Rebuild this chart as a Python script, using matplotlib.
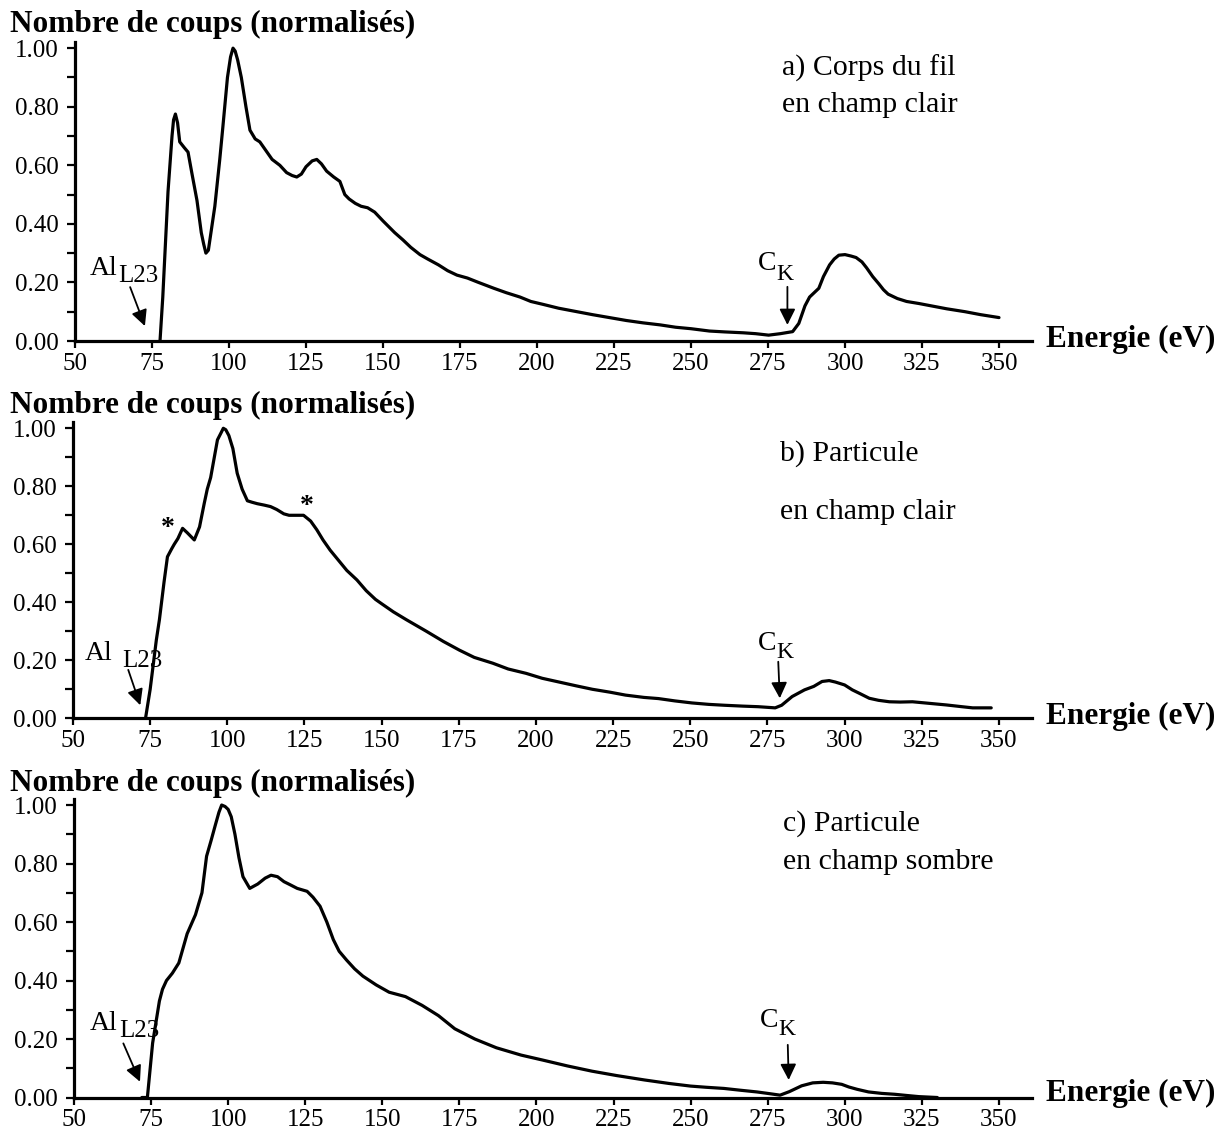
import matplotlib
matplotlib.use("Agg")
import matplotlib.pyplot as plt
from matplotlib.ticker import MultipleLocator, FixedLocator

# ---------------- data ----------------
energy_a = [77.6, 78.5, 80.2, 81.5, 82.0, 82.6, 83.3, 84.0, 85.5, 86.7, 88.0, 89.6, 91.0, 91.8,
            92.5, 93.3, 94.0, 95.4, 97.0, 98.0, 99.5, 100.5, 101.3, 102.0, 102.8, 104.0, 105.5,
            106.8, 108.5, 110.0, 112.0, 114.0,
            116.5, 118.7, 120.5, 122.0, 123.5, 125.0, 127.0, 128.5, 130.0, 131.7, 134.0, 136.0,
            137.6, 139.0, 141.0, 142.9, 145.0, 147.3, 150.0, 153.8, 156.5, 159.0, 162.0, 164.5,
            168.0, 171.0, 174.0, 177.4, 181.0, 186.0, 190.0, 194.5, 198.0, 202.0, 207.0, 213.0,
            218.0, 223.5, 229.0, 234.4, 240.0, 245.0, 250.0, 256.0, 261.0, 267.0, 271.0, 275.2,
            279.0, 283.0, 285.0, 287.0, 288.5, 290.0, 291.5, 293.0, 295.0, 296.5, 298.0, 300.0,
            302.0, 303.6, 305.5, 307.0, 309.0, 311.0, 312.5, 314.0, 317.0, 320.0, 324.0, 328.0,
            333.0, 339.0, 344.0, 350.0]
counts_a = [0.0, 0.15, 0.51, 0.70, 0.755, 0.775, 0.745, 0.68, 0.66, 0.645, 0.57, 0.48, 0.37, 0.33,
            0.30, 0.31, 0.36, 0.46, 0.62, 0.73, 0.90, 0.97, 1.00, 0.99, 0.96, 0.90, 0.80,
            0.72, 0.69, 0.68, 0.65, 0.62,
            0.60, 0.575, 0.565, 0.56, 0.57, 0.595, 0.615, 0.62, 0.605, 0.58, 0.56, 0.545,
            0.50, 0.485, 0.47, 0.46, 0.455, 0.44, 0.41, 0.37, 0.345, 0.32, 0.295, 0.28,
            0.26, 0.24, 0.225, 0.215, 0.20, 0.18, 0.165, 0.15, 0.135, 0.125, 0.112, 0.10,
            0.09, 0.08, 0.07, 0.062, 0.055, 0.047, 0.042, 0.034, 0.031, 0.028, 0.025, 0.02,
            0.025, 0.032, 0.06, 0.12, 0.15, 0.165, 0.18, 0.22, 0.26, 0.28, 0.293, 0.295,
            0.29, 0.285, 0.27, 0.25, 0.22, 0.195, 0.175, 0.16, 0.145, 0.135, 0.128, 0.12,
            0.11, 0.10, 0.09, 0.08]

energy_b = [73.5, 75, 77, 78, 79.5, 80.6, 82, 82.8, 84, 85.5, 87, 89.3, 91, 92.5, 93.5, 94.6,
            96.8, 98, 98.7, 99.5, 100.5, 101.8, 103.2, 104.8, 106.5, 108, 109.7, 112, 114, 116, 118.3,
            120, 122, 124.7, 127, 129, 131, 133.3, 136, 138.7, 142, 145, 148, 150, 153.8, 158,
            164.5, 170, 175.2, 180, 186, 191, 196.8, 202, 207.5, 213, 218.3, 224, 229, 235,
            239.7, 245, 250.5, 256, 261, 267, 272, 277.5, 279.6, 283, 287, 290, 292.7, 295,
            297, 300, 302.5, 305, 308, 311, 314.5, 318, 322, 327, 333, 338, 341.5, 347.5]
counts_b = [0, 0.10, 0.27, 0.34, 0.47, 0.557, 0.585, 0.60, 0.62, 0.655, 0.64, 0.615, 0.66, 0.74,
            0.79, 0.83, 0.96, 0.985, 1.0, 0.995, 0.975, 0.93, 0.845, 0.79, 0.75, 0.745, 0.74, 0.735,
            0.73, 0.72, 0.705, 0.70, 0.70, 0.70, 0.68, 0.65, 0.615, 0.58, 0.545, 0.51, 0.477,
            0.44, 0.41, 0.395, 0.367, 0.34, 0.30, 0.265, 0.235, 0.21, 0.19, 0.17, 0.155, 0.138,
            0.125, 0.112, 0.10, 0.09, 0.08, 0.072, 0.068, 0.06, 0.053, 0.048, 0.045, 0.042,
            0.04, 0.036, 0.045, 0.075, 0.098, 0.11, 0.127, 0.13, 0.125, 0.115, 0.098, 0.085,
            0.069, 0.062, 0.057, 0.056, 0.057, 0.052, 0.046, 0.04, 0.036, 0.036]

energy_c = [72, 73.8, 75.5, 77.7, 78.7, 80, 81.9, 84, 86.7, 89.4, 91.5, 93, 94.5, 95.8, 97.0, 97.9,
            99.0, 100, 101, 102.2, 103.5, 104.8, 107, 109.6, 112, 113.9, 116, 118.1, 120, 122.4,
            125.6, 127.5, 129.8, 132, 134.1, 136, 138.4, 141, 143.7, 148, 152.2, 157.5, 162.9,
            168.2, 173.5, 180, 187, 195, 202, 210, 218, 226, 235, 243, 250, 255, 260.8, 266,
            271.5, 275, 279, 282, 286, 289.6, 293, 296, 299, 301.3, 304, 307.7, 312, 316.2,
            320, 324, 330]
counts_c = [0, 0, 0.186, 0.33, 0.37, 0.40, 0.425, 0.46, 0.56, 0.625, 0.70, 0.825, 0.88, 0.93, 0.975,
            1.0, 0.995, 0.985, 0.96, 0.90, 0.82, 0.755, 0.715, 0.73, 0.75, 0.76, 0.755, 0.738, 0.728,
            0.715, 0.705, 0.685, 0.654, 0.60, 0.54, 0.50, 0.47, 0.44, 0.415, 0.385, 0.36,
            0.345, 0.315, 0.28, 0.235, 0.20, 0.17, 0.145, 0.128, 0.108, 0.09, 0.075, 0.06,
            0.048, 0.039, 0.035, 0.031, 0.025, 0.019, 0.014, 0.008, 0.02, 0.04, 0.05, 0.052,
            0.05, 0.045, 0.036, 0.028, 0.019, 0.014, 0.011, 0.007, 0.003, 0]

x_ticks = [50, 75, 100, 125, 150, 175, 200, 225, 250, 275, 300, 325, 350]
y_ticks = [0.0, 0.2, 0.4, 0.6, 0.8, 1.0]
y_label = "Nombre de coups (normalisés)"
x_label = "Energie (eV)"
panel_titles = [("a) Corps du fil", "en champ clair"),
                ("b) Particule", "en champ clair"),
                ("c) Particule", "en champ sombre")]
# annotation anchors (energy, counts)
al_arrow = [((67.9, 0.184), (72.7, 0.051)), ((67.9, 0.167), (71.8, 0.045)), ((66.0, 0.185), (71.4, 0.054))]
al_text = [((54.9, 0.225), (64.0, 0.20)), ((53.9, 0.20), (66.0, 0.177)), ((55.0, 0.23), (64.8, 0.208))]
ck_arrow = [((281.3, 0.185), (281.3, 0.055)), ((278.5, 0.195), (279.0, 0.069)), ((281.5, 0.18), (281.8, 0.06))]
ck_text = [((271.8, 0.242), (277.8, 0.208)), ((272.0, 0.235), (278.0, 0.207)), ((272.3, 0.242), (278.4, 0.214))]
stars_b = [(80.7, 0.677), (125.9, 0.753)]

# ---------------- figure ----------------
W, H = 1231, 1135
fig = plt.figure(figsize=(W / 100, H / 100), dpi=100)
SERIF = "Liberation Serif"

def px_axes(left, top, right, bottom):
    return [left / W, 1 - bottom / H, (right - left) / W, (bottom - top) / H]

def ftext(x, y, s, **kw):
    fig.text(x / W, 1 - y / H, s, family=SERIF, **kw)

panels = [
    dict(box=(75, 41.7, 1032, 341.0), e=energy_a, c=counts_a, title_y=31.7, xl_y=347.3,
         t1=(781.7, 76.0), t2=(781.7, 111.7)),
    dict(box=(73, 421.9, 1032, 718.3), e=energy_b, c=counts_b, title_y=413.0, xl_y=724.0,
         t1=(780.0, 461.0), t2=(780.0, 519.0)),
    dict(box=(74, 798.6, 1032, 1097.5), e=energy_c, c=counts_c, title_y=790.5, xl_y=1101.0,
         t1=(783.0, 831.0), t2=(783.0, 869.0)),
]

ymax = 1.022
xmax = 50 + (1032 - 75) / 3.08

for i, p in enumerate(panels):
    ax = fig.add_axes(px_axes(*p["box"]))
    ax.plot(p["e"], p["c"], color="black", lw=2.3, solid_joinstyle="round", solid_capstyle="round")
    ax.set_xlim(50, xmax)
    ax.set_ylim(0, ymax)
    for s in ("top", "right"):
        ax.spines[s].set_visible(False)
    for s in ("left", "bottom"):
        ax.spines[s].set_linewidth(2.3)
        ax.spines[s].set_color("black")
    ax.xaxis.set_major_locator(FixedLocator(x_ticks))
    ax.set_xticklabels([str(t) for t in x_ticks])
    ax.yaxis.set_major_locator(FixedLocator(y_ticks))
    ax.set_yticklabels(["%.2f" % t for t in y_ticks])
    ax.yaxis.set_minor_locator(MultipleLocator(0.1))
    ax.tick_params(axis="x", which="major", direction="out", length=5, width=1.6,
                   pad=3.5, labelsize=18)
    ax.tick_params(axis="y", which="both", direction="out", length=6, width=1.6,
                   pad=6, labelsize=18)
    for lab in ax.get_xticklabels() + ax.get_yticklabels():
        lab.set_family(SERIF)
    ax.patch.set_alpha(0)

    # Al L23 annotation
    (tx, ty), (hx, hy) = al_arrow[i]
    ax.annotate("", xy=(hx, hy), xytext=(tx, ty),
                arrowprops=dict(arrowstyle="-|>", lw=1.3, color="black", mutation_scale=24,
                                shrinkA=0, shrinkB=0))
    (ax1, ay1), (ax2, ay2) = al_text[i]
    ax.text(ax1, ay1, "Al", family=SERIF, fontsize=20, va="baseline", ha="left")
    ax.text(ax2, ay2, "L23", family=SERIF, fontsize=18, va="baseline", ha="left")

    # C K annotation
    (tx, ty), (hx, hy) = ck_arrow[i]
    ax.annotate("", xy=(hx, hy), xytext=(tx, ty),
                arrowprops=dict(arrowstyle="-|>", lw=1.3, color="black", mutation_scale=24,
                                shrinkA=0, shrinkB=0))
    (cx1, cy1), (cx2, cy2) = ck_text[i]
    ax.text(cx1, cy1, "C", family=SERIF, fontsize=20, va="baseline", ha="left")
    ax.text(cx2, cy2, "K", family=SERIF, fontsize=17, va="baseline", ha="left")

    if i == 1:
        for sx, sy in stars_b:
            ax.text(sx, sy - 0.045, "*", family=SERIF, fontsize=20, fontweight="bold",
                    ha="center", va="baseline")

    # texts
    ftext(10, p["title_y"], y_label, fontsize=22.5, fontweight="bold", va="baseline", ha="left")
    ftext(1046, p["xl_y"], x_label, fontsize=22.5, fontweight="bold", va="baseline", ha="left")
    l1, l2 = panel_titles[i]
    ftext(p["t1"][0], p["t1"][1], l1, fontsize=21.5, va="baseline", ha="left")
    ftext(p["t2"][0], p["t2"][1], l2, fontsize=21.5, va="baseline", ha="left")

fig.savefig("out.png", dpi=100, facecolor="white")
